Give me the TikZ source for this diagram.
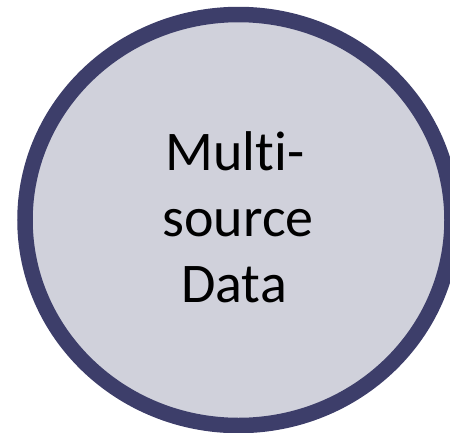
\documentclass[tikz,border=0pt]{standalone}
\usepackage{fontspec}
\setmainfont[Ligatures=NoCommon]{Carlito}
\definecolor{ringnavy}{RGB}{61,62,106}
\definecolor{discfill}{RGB}{208,209,219}
\tikzset{
  disc/.style={draw=ringnavy, fill=discfill, line width=15.5pt},
  label/.style={anchor=base, inner sep=0pt, font=\fontsize{56}{66}\selectfont, text=black}
}
\begin{document}
\begin{tikzpicture}[x=1pt,y=1pt]
  \useasboundingbox (0,0) rectangle (450,-432);
  % the data disc, slightly wider than tall
  \draw[disc] (238.5,-220) ellipse [x radius=213.5, y radius=205.5];
  % its three-line caption
  \node[label] (l1) at (235,-170) {Multi-};
  \node[label] (l2) at (238,-236) {source};
  \node[label] (l3) at (234,-302) {Data};
\end{tikzpicture}
\end{document}
